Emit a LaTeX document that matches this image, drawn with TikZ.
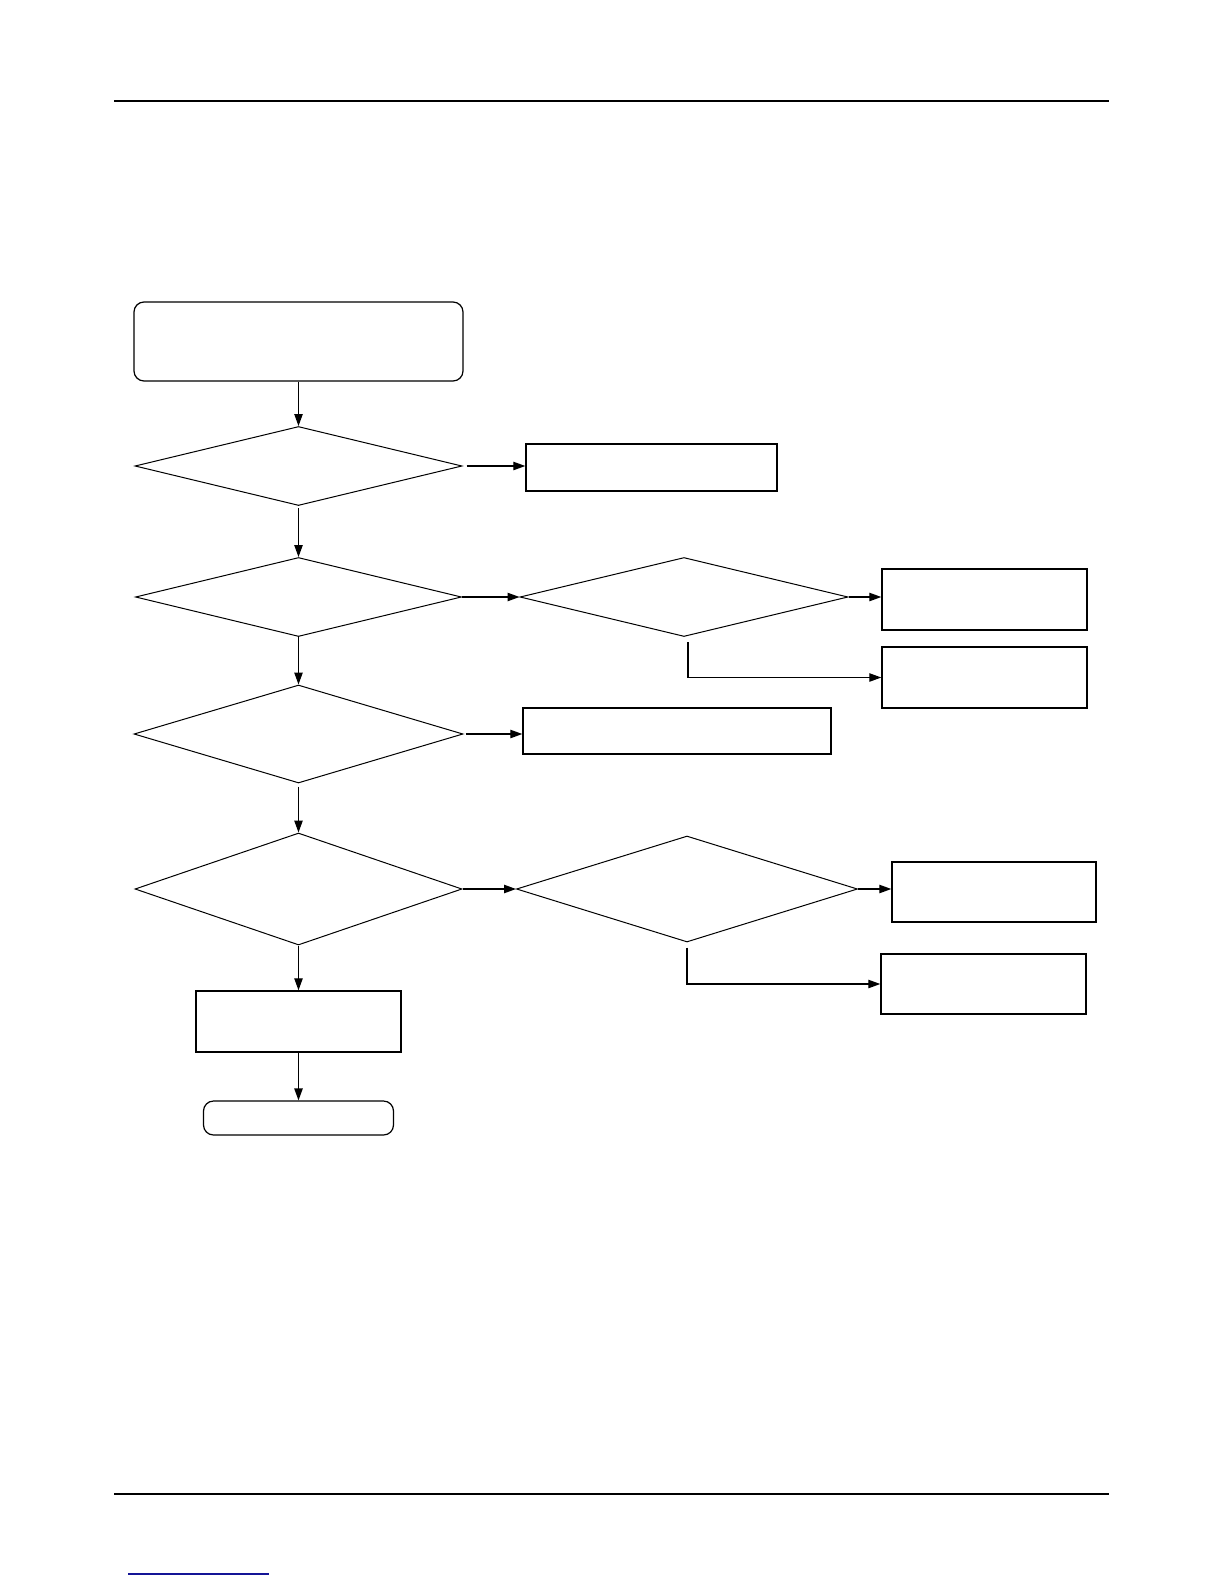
\documentclass[tikz,border=0pt]{standalone}
\usetikzlibrary{shapes.geometric,arrows.meta}
\begin{document}
\begin{tikzpicture}[x=0.5pt,y=-0.5pt,
  line/.style={line width=0.6pt},
  arr/.style={line, -{Triangle[length=6pt,width=4.2pt]}},
  dia/.style={diamond, draw, line width=0.5pt, inner sep=0pt},
  box/.style={rectangle, draw, line width=0.7pt, inner sep=0pt},
  rbox/.style={rectangle, rounded corners=5pt, draw, line width=0.6pt, inner sep=0pt},
  rule/.style={line width=1pt}]
\useasboundingbox (0,0) rectangle (1224,1584);
% page rules
\draw[rule] (114,101) -- (1109,101);
\draw[rule] (114,1494) -- (1109,1494);
\draw[line width=0.8pt, color={rgb,255:red,20;green,20;blue,150}] (128,1574) -- (269,1574);
% nodes
\node[rbox, minimum width=164.5pt, minimum height=39.5pt] (start) at (298.5,341.5) {};
\node[dia, minimum width=163.5pt, minimum height=39.5pt] (d1) at (298.5,466) {};
\node[box, minimum width=125.5pt, minimum height=23.5pt] (b1) at (651.5,467.5) {};
\node[dia, minimum width=163pt, minimum height=39.5pt] (d2) at (298.5,597) {};
\node[dia, minimum width=164pt, minimum height=39.5pt] (d3) at (684,597) {};
\node[box, minimum width=102.5pt, minimum height=30.5pt] (r1) at (984.5,599.5) {};
\node[box, minimum width=102.5pt, minimum height=30.5pt] (r2) at (984.5,677.5) {};
\node[dia, minimum width=164.5pt, minimum height=49pt] (d4) at (298.5,734) {};
\node[box, minimum width=154pt, minimum height=23pt] (m) at (677,731) {};
\node[dia, minimum width=163.5pt, minimum height=56pt] (d5) at (298.5,889) {};
\node[dia, minimum width=170.5pt, minimum height=53pt] (d6) at (687,889) {};
\node[box, minimum width=102pt, minimum height=30pt] (r3) at (994,892) {};
\node[box, minimum width=102.5pt, minimum height=30pt] (r4) at (983.5,984) {};
\node[box, minimum width=102.5pt, minimum height=30.5pt] (b) at (298.5,1021.5) {};
\node[rbox, minimum width=95pt, minimum height=17pt] (end) at (298.5,1118) {};
% connectors
\draw[arr] (start.south) -- (d1.north);
\draw[arr, shorten <=2pt] (d1.east) -- (d1.east -| b1.west);
\draw[arr, shorten <=1pt] (d1.south) -- (d2.north);
\draw[arr] (d2.east) -- (d3.west);
\draw[arr] (d3.east) -- (d3.east -| r1.west);
\draw[arr] ([xshift=2pt,yshift=-2.5pt]d3.south) |- (r2.west);
\draw[arr] (d2.south) -- (d4.north);
\draw[arr, shorten <=1pt] (d4.east) -- (d4.east -| m.west);
\draw[arr, shorten <=1.5pt] (d4.south) -- (d5.north);
\draw[arr] (d5.east) -- (d6.west);
\draw[arr] (d6.east) -- (d6.east -| r3.west);
\draw[arr] ([yshift=-2.5pt]d6.south) |- (r4.west);
\draw[arr] (d5.south) -- (b.north);
\draw[arr] (b.south) -- (end.north);
\end{tikzpicture}
\end{document}
